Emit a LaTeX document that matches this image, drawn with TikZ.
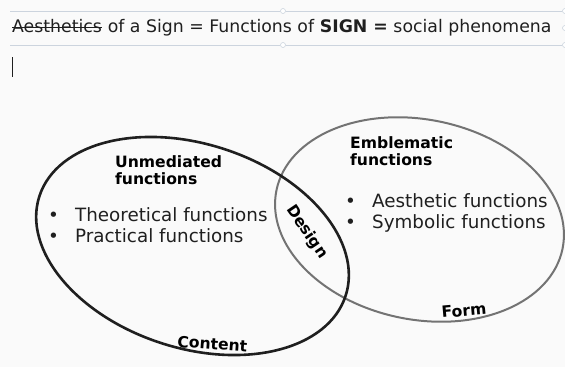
\documentclass[tikz,border=0pt]{standalone}
\usepackage{fontspec}
\setmainfont{DejaVu Sans}
\usetikzlibrary{shapes.geometric}
\definecolor{mpaper}{rgb}{0.98, 0.98, 0.98}
\definecolor{mframe}{rgb}{0.80, 0.83, 0.87}
\definecolor{mink}{rgb}{0.12, 0.12, 0.12}
\definecolor{mring}{rgb}{0.45, 0.45, 0.45}
\tikzset{handle/.style = {circle, draw=mframe, fill=white, inner sep=0pt,
                          minimum size=5pt, line width=0.6pt}}
\tikzset{titletext/.style = {anchor=base west, inner sep=0pt, text=mink,
                             font=\fontsize{17.3}{20}\selectfont}}
\tikzset{boldtag/.style = {anchor=base west, inner sep=0pt, align=left, text=black,
                           font=\fontsize{15.6}{17}\selectfont\bfseries}}
\tikzset{itemtext/.style = {anchor=base west, inner sep=0pt, align=left, text=mink,
                            font=\fontsize{18.3}{21}\selectfont}}
\newcommand{\itembullet}{\makebox[27pt][l]{\textbullet}}

\begin{document}
\begin{tikzpicture}[x=1pt, y=-1pt]
    \fill [mpaper] (0, 0) rectangle (565, 367);
    \useasboundingbox (0, 0) rectangle (565, 367);

    % title box with its handles
    \coordinate (boxnw) at (10, 11);
    \coordinate (boxsw) at (10, 45);
    \node [handle] (htop) at (283, 11) {};
    \node [handle] (hbottom) at (283, 45) {};
    \node [handle] (hne) at (565, 11) {};
    \node [handle] (hright) at (565, 28) {};
    \node [handle] (hse) at (565, 45) {};
    \draw [mframe, line width=0.6pt] (boxnw) -- (htop) -- (hne);
    \draw [mframe, line width=0.6pt] (boxsw) -- (hbottom) -- (hse);
    \node [titletext] (struck) at (12, 32.3) {Aesthetics};
    \node [titletext] (title) at (struck.base east) {\ of a Sign = Functions of \textbf{SIGN =} social phenomena};
    \draw [mink, line width=1pt] ([yshift=4.6pt]struck.base west) -- ([yshift=4.6pt]struck.base east);

    \coordinate (cursortop) at (12, 57);
    \coordinate (cursorbot) at (12, 77);
    \draw [mink, line width=0.8pt] (cursortop) -- (cursorbot);

    % the two ellipses
    \node [ellipse, draw=mring, line width=2pt, minimum width=292pt, minimum height=200pt,
           inner sep=0pt, rotate=-11.5] (form) at (419.5, 219.5) {};
    \node [ellipse, draw=mink, line width=2.6pt, minimum width=322pt, minimum height=204pt,
           inner sep=0pt, rotate=-18] (content) at (192.5, 246) {};

    % multi-line nodes sit on the baseline of their last line
    \node [boldtag] (unmediated) at (115, 184) {Unmediated\\functions};
    \node [itemtext] (unmediatedlist) at (48, 242) {\itembullet Theoretical functions\\\itembullet Practical functions};
    \node [boldtag] (emblematic) at (350, 165) {Emblematic\\functions};
    \node [itemtext] (emblematiclist) at (345, 228) {\itembullet Aesthetic functions\\\itembullet Symbolic functions};

    \node [boldtag, anchor=center, rotate=-56] (design) at (307, 232) {Design};
    \node [boldtag, rotate=-4] (contentlabel) at (177, 347) {Content};
    \node [boldtag, rotate=5] (formlabel) at (442, 318) {Form};
\end{tikzpicture}
\end{document}
